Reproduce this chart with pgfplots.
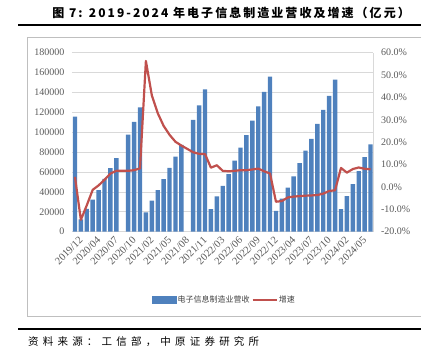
\documentclass[border=0pt]{standalone}
\usepackage{pgfplots}
\pgfplotsset{compat=1.18}
\usepackage{pgfplotstable}
\usepackage{fontspec}
\setmainfont{Liberation Serif}
\newfontfamily\cjk{Noto Sans CJK SC}
\newfontfamily\titlefont[LetterSpace=17]{Noto Sans CJK SC}
\newfontfamily\footfont[LetterSpace=40]{Noto Sans CJK SC}
\newfontfamily\tickfont{Liberation Serif}
\definecolor{barblue}{RGB}{79,129,189}
\definecolor{linered}{RGB}{192,80,77}
\definecolor{tickgray}{RGB}{89,89,89}
\definecolor{gridgray}{RGB}{217,217,217}
\definecolor{boxgray}{RGB}{191,191,191}

\pgfplotstableread{
idx rev
0 115800
1 12500
2 22900
3 32300
4 41800
5 53200
6 64000
7 74000
9 97600
10 110400
11 124900
12 19500
13 31300
14 41800
15 52900
16 64300
17 75400
18 87200
20 112500
21 127000
22 143000
23 22600
24 35400
25 46000
26 57900
27 71400
28 84500
29 97000
30 111800
31 126000
32 140700
33 155900
34 20900
35 33300
36 44400
37 55600
38 69000
39 81500
40 93300
41 108400
42 122600
43 136700
44 152900
45 22600
46 35700
47 47800
48 61000
49 75000
50 87900
}\revtable

\pgfplotstableread{
idx g
0 4.5
1 -14.7
2 -8.2
3 -1.3
4 0.7
5 3.2
6 6.0
7 7.2
9 7.2
10 7.5
11 8.3
12 56.3
13 41.0
14 33.0
15 27.3
16 23.3
17 20.2
18 18.5
20 15.5
21 14.8
22 14.7
23 8.6
24 9.7
25 7.2
26 7.0
27 7.2
28 7.5
29 7.5
30 7.8
31 8.2
32 7.0
33 6.0
34 -6.6
35 -6.3
36 -4.7
37 -4.3
38 -4.1
39 -3.9
40 -3.8
41 -3.6
42 -3.0
43 -1.8
44 -1.5
45 8.5
46 6.4
47 8.0
48 8.7
49 8.1
50 7.9
}\growtable

\begin{document}
\begin{tikzpicture}[x=1pt,y=1pt]
\useasboundingbox (0,0) rectangle (437,359);
% title
\node[anchor=east, inner sep=0pt] at (410,346.5) {\titlefont\bfseries\fontsize{12}{14}\selectfont 图 7: 2019-2024 年电子信息制造业营收及增速（亿元）};
\draw[line width=2pt] (18,334) -- (421,334);
% chart area border
\draw[boxgray, line width=0.6pt] (421,322) -- (27,322) -- (27,43) -- (421,43);
% footer
\draw[line width=2pt] (18,30) -- (421,30);
\node[anchor=west, inner sep=0pt] at (28,17) {\footfont\fontsize{10.5}{12}\selectfont 资料来源：工信部，中原证券研究所};

\begin{axis}[
  at={(72pt,127.3pt)}, anchor=south west,
  scale only axis, width=301.5pt, height=179pt,
  xmin=-0.5, xmax=50.5, ymin=0, ymax=180000,
  axis x line*=bottom, axis y line*=left,
  x axis line style={gridgray, line width=0.75pt, -},
  y axis line style={draw=none},
  ytick={0,20000,40000,60000,80000,100000,120000,140000,160000,180000},
  yticklabels={0,20000,40000,60000,80000,100000,120000,140000,160000,180000},
  scaled y ticks=false,
  ymajorgrids, grid style={gridgray, line width=0.75pt},
  xtick={0,3,...,48},
  xticklabels={2019/12,2020/04,2020/07,2020/10,2021/02,2021/05,2021/08,2021/11,2022/03,2022/06,2022/09,2022/12,2023/04,2023/07,2023/10,2024/02,2024/05},
  major tick length=0pt,
  yticklabel style={font=\tickfont\fontsize{10}{12}\selectfont, text=tickgray, xshift=-4pt},
  xticklabel style={font=\tickfont\fontsize{10.5}{12}\selectfont, text=tickgray, rotate=45, anchor=east, yshift=-9pt, xshift=3pt},
]
\addplot[ybar, bar width=4.4pt, fill=barblue, draw=none] table[x=idx, y=rev] {\revtable};
\end{axis}

\begin{axis}[
  at={(72pt,127.3pt)}, anchor=south west,
  scale only axis, width=301.5pt, height=179pt,
  xmin=-0.5, xmax=50.5, ymin=-20, ymax=60,
  axis x line=none, axis y line*=right,
  y axis line style={gridgray, line width=0.75pt, -},
  ytick={-20,-10,0,10,20,30,40,50,60},
  yticklabels={-20.0\%,-10.0\%,0.0\%,10.0\%,20.0\%,30.0\%,40.0\%,50.0\%,60.0\%},
  major tick length=0pt,
  yticklabel style={font=\tickfont\fontsize{10}{12}\selectfont, text=tickgray, xshift=4pt},
  legend style={at={(0.504,-0.3816)}, anchor=center, draw=none, fill=none,
    font=\cjk\fontsize{8}{9}\selectfont, text=black!75, inner sep=0pt,
    nodes={inner sep=1pt},
    /tikz/every even column/.append style={column sep=1pt}},
  legend columns=2,
]
\addlegendimage{legend image code/.code={\fill[barblue] (0pt,-3.5pt) rectangle (24pt,3.5pt);}}
\addlegendentry{电子信息制造业营收}
\addplot[linered, line width=2.2pt, line join=round, mark=none,
  legend image code/.code={\draw[linered, line width=2.2pt] (0pt,0pt) -- (24pt,0pt);}]
  table[x=idx, y=g] {\growtable};
\addlegendentry{增速}
\end{axis}
\end{tikzpicture}
\end{document}
